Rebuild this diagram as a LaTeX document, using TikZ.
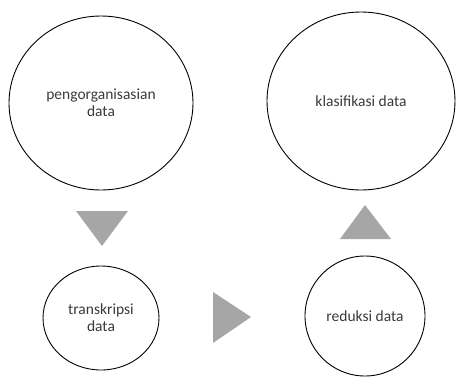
\documentclass[tikz,border=0pt]{standalone}
\usepackage{fontspec}
\setmainfont{Carlito}
\usetikzlibrary{shapes.geometric}
\definecolor{txt}{HTML}{3A3A3A}
\definecolor{tri}{HTML}{A6A6A6}
\begin{document}
\begin{tikzpicture}[x=1pt,y=-1pt,
  bubble/.style={draw=black,line width=0.9pt,ellipse,inner sep=0pt,align=center,text=txt,font=\fontsize{15.5}{17}\selectfont},
  arrowtri/.style={fill=tri,draw=none}]
\useasboundingbox (0,0) rectangle (456,376);
\node[bubble,minimum width=184pt,minimum height=174pt] (org) at (101,103) {pengorganisasian\\data};
\node[bubble,minimum width=188pt,minimum height=178pt] (kla) at (361,101) {klasifikasi data};
\node[bubble,minimum width=116pt,minimum height=104pt] (tra) at (101,318) {transkripsi\\data};
\node[bubble,minimum width=120pt,minimum height=120pt] (red) at (365,316) {reduksi data};
\fill[arrowtri] (76,211) -- (128,211) -- (102,246) -- cycle;
\fill[arrowtri] (213,292) -- (251,317) -- (213,343) -- cycle;
\fill[arrowtri] (340,239) -- (391,239) -- (365,205) -- cycle;
\end{tikzpicture}
\end{document}
